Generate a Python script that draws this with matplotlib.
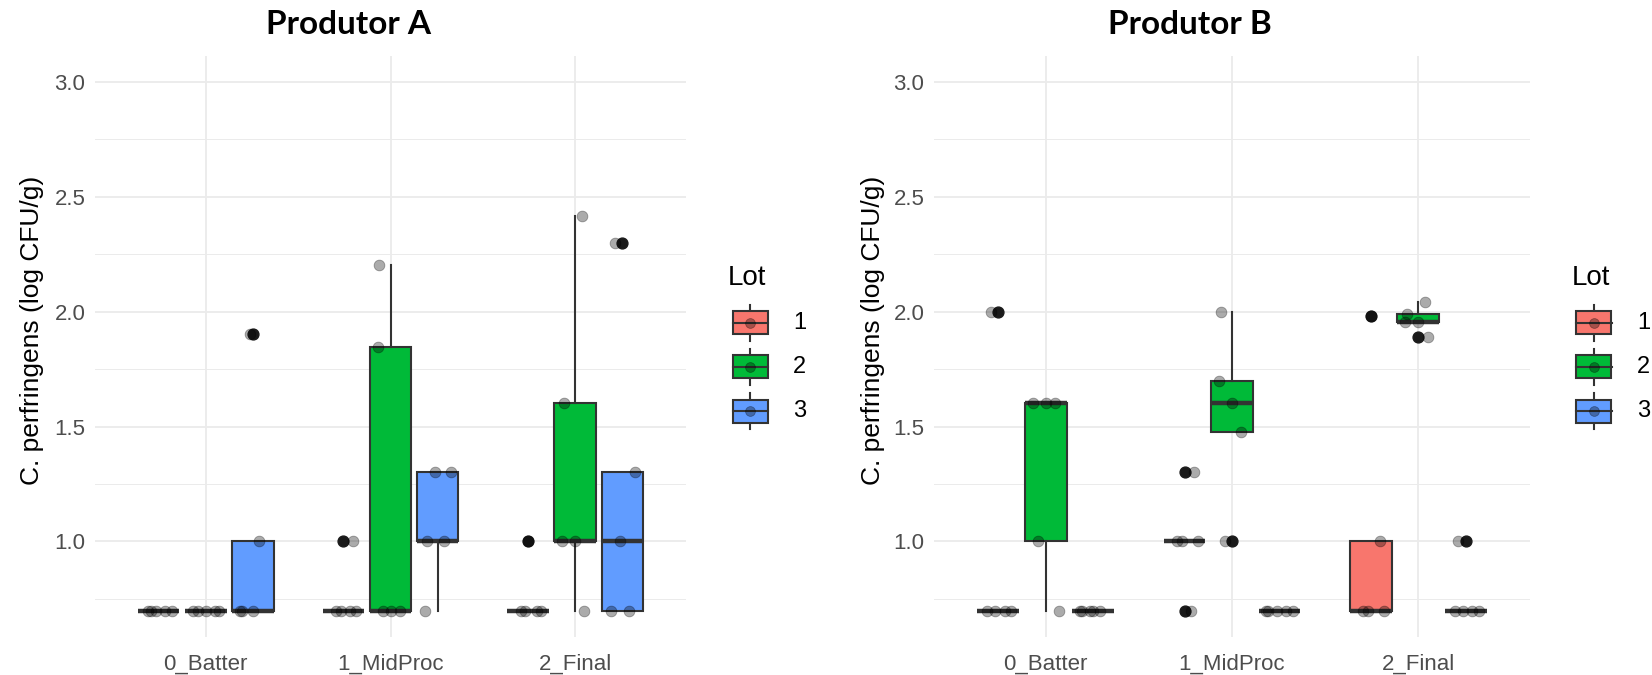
import numpy as np
import matplotlib
matplotlib.use("Agg")
import matplotlib.pyplot as plt
from matplotlib.patches import Rectangle
from matplotlib.ticker import MultipleLocator

# ---------------- data (log CFU/g) ----------------
stages = ["0_Batter", "1_MidProc", "2_Final"]
lots = ["1", "2", "3"]
lot_colors = ["#F8766D", "#00BA38", "#619CFF"]
y_ticks = [1.0, 1.5, 2.0, 2.5, 3.0]

# Produtor A
A_batter_lot1 = [0.699, 0.699, 0.699, 0.699, 0.699]
A_batter_lot2 = [0.699, 0.699, 0.699, 0.699, 0.699]
A_batter_lot3 = [0.699, 0.699, 0.699, 1.0, 1.903]
A_midproc_lot1 = [0.699, 0.699, 0.699, 0.699, 1.0]
A_midproc_lot2 = [0.699, 0.699, 0.699, 1.845, 2.204]
A_midproc_lot3 = [0.699, 1.0, 1.0, 1.301, 1.301]
A_final_lot1 = [0.699, 0.699, 0.699, 0.699, 1.0]
A_final_lot2 = [0.699, 1.0, 1.0, 1.602, 2.415]
A_final_lot3 = [0.699, 0.699, 1.0, 1.301, 2.301]

# Produtor B
B_batter_lot1 = [0.699, 0.699, 0.699, 0.699, 2.0]
B_batter_lot2 = [0.699, 1.0, 1.602, 1.602, 1.602]
B_batter_lot3 = [0.699, 0.699, 0.699, 0.699, 0.699]
B_midproc_lot1 = [0.699, 1.0, 1.0, 1.0, 1.301]
B_midproc_lot2 = [1.0, 1.477, 1.602, 1.699, 2.0]
B_midproc_lot3 = [0.699, 0.699, 0.699, 0.699, 0.699]
B_final_lot1 = [0.699, 0.699, 0.699, 1.0, 1.98]
B_final_lot2 = [1.892, 1.954, 1.954, 1.991, 2.041]
B_final_lot3 = [0.699, 0.699, 0.699, 0.699, 1.0]

producers = [
    ("Produtor A", [[A_batter_lot1, A_batter_lot2, A_batter_lot3],
                    [A_midproc_lot1, A_midproc_lot2, A_midproc_lot3],
                    [A_final_lot1, A_final_lot2, A_final_lot3]]),
    ("Produtor B", [[B_batter_lot1, B_batter_lot2, B_batter_lot3],
                    [B_midproc_lot1, B_midproc_lot2, B_midproc_lot3],
                    [B_final_lot1, B_final_lot2, B_final_lot3]]),
]

# ---------------- style ----------------
W, H = 1652, 675
fig = plt.figure(figsize=(W / 100, H / 100), dpi=100)
fig.patch.set_facecolor("white")
FONT = ["Liberation Sans", "DejaVu Sans"]
EDGE = "#333333"
GRID = "#EBEBEB"

dodge = 0.255
box_w = 0.225
jitter_pattern = [-0.06, 0.035, -0.015, 0.07, -0.04, 0.05, 0.0, -0.07]

panel_px = [(95, 686), (934, 1530)]
top_px, bot_px = 55.6, 636.8
title_x = [348, 1190]
ylab_x = [32, 873]
legend_key_x = [750, 1594]


def px_axes(x0, y0, x1, y1):
    return fig.add_axes([x0 / W, 1 - y1 / H, (x1 - x0) / W, (y1 - y0) / H])


for p, (pname, groups) in enumerate(producers):
    x0, x1 = panel_px[p]
    ax = px_axes(x0, top_px, x1, bot_px)
    ax.set_facecolor("white")
    for s in ax.spines.values():
        s.set_visible(False)
    ax.set_xlim(0.4, 3.6)
    ax.set_ylim(0.585, 3.115)
    ax.yaxis.set_minor_locator(MultipleLocator(0.25))
    ax.set_yticks(y_ticks)
    ax.set_yticklabels([f"{v:.1f}" for v in y_ticks])
    ax.set_xticks(range(1, len(stages) + 1))
    ax.set_xticklabels(stages)
    ax.tick_params(axis="both", which="both", length=0, colors="#4D4D4D",
                   labelsize=16)
    ax.tick_params(axis="x", pad=12)
    ax.tick_params(axis="y", pad=7)
    for lab in ax.get_xticklabels() + ax.get_yticklabels():
        lab.set_family(FONT)
    ax.grid(True, which="major", color=GRID, lw=1.3)
    ax.grid(True, which="minor", axis="y", color=GRID, lw=0.7)
    ax.set_axisbelow(True)

    k = 0
    for si, stage_groups in enumerate(groups):
        for li, vals in enumerate(stage_groups):
            pos = si + 1 + (li - 1) * dodge
            ax.boxplot([vals], positions=[pos], widths=box_w, patch_artist=True,
                       showcaps=False, whis=1.5, manage_ticks=False,
                       boxprops=dict(facecolor=lot_colors[li], edgecolor=EDGE, lw=1.5),
                       whiskerprops=dict(color=EDGE, lw=1.5),
                       medianprops=dict(color=EDGE, lw=3.2, solid_capstyle="butt"),
                       flierprops=dict(marker="o", markerfacecolor="#1a1a1a",
                                       markeredgecolor="#1a1a1a", markersize=7.8),
                       zorder=2)
            offs = [jitter_pattern[(k + j) % len(jitter_pattern)] for j in range(len(vals))]
            k += 3
            ax.scatter(np.array(offs) + pos, vals, s=60, c="black", alpha=0.33,
                       edgecolors="black", linewidths=0.6, zorder=4)

    fig.text(title_x[p] / W, 1 - 34 / H, pname, ha="center", va="baseline",
             fontsize=24, fontweight="bold", family=["Lato", "DejaVu Sans"])
    fig.text(ylab_x[p] / W, 1 - 330 / H, "C. perfringens (log CFU/g)", rotation=90,
             ha="center", va="center", fontsize=19, family=FONT, color="black")

    # legend
    kx = legend_key_x[p]
    lg = px_axes(kx - 30, 250, kx + 70, 440)
    lg.set_xlim(kx - 30, kx + 70)
    lg.set_ylim(440, 250)
    lg.axis("off")
    lg.text(kx - 22, 278, "Lot", ha="left", va="center", fontsize=20, family=FONT)
    for li, (lab, col) in enumerate(zip(lots, lot_colors)):
        cy = 322.5 + li * 44.3
        lg.plot([kx, kx], [cy - 18, cy + 18], color=EDGE, lw=1.5, zorder=1)
        lg.add_patch(Rectangle((kx - 17.5, cy - 11.5), 35, 23, facecolor=col,
                               edgecolor=EDGE, lw=1.5, zorder=2))
        lg.plot([kx - 17.5, kx + 17.5], [cy, cy], color=EDGE, lw=1.5, zorder=3)
        lg.scatter([kx], [cy], s=50, c="black", alpha=0.33, edgecolors="black",
                   linewidths=0.6, zorder=4)
        lg.text(kx + 43, cy, lab, ha="left", va="center", fontsize=17, family=FONT)

fig.savefig("out.png", dpi=100)
